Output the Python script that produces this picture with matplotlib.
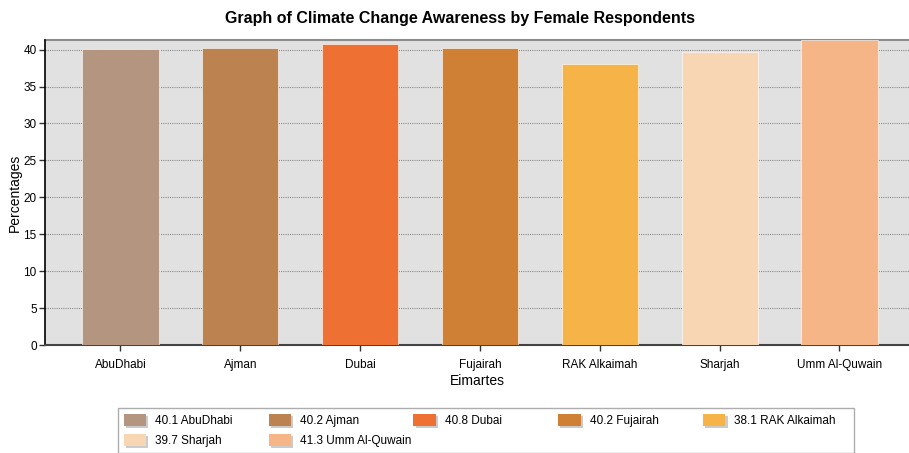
import matplotlib
matplotlib.use("Agg")
import matplotlib.pyplot as plt
from matplotlib.patches import Patch
import matplotlib.patheffects as pe

emirates = ["AbuDhabi", "Ajman", "Dubai", "Fujairah", "RAK Alkaimah", "Sharjah", "Umm Al-Quwain"]
percentages = [40.1, 40.2, 40.8, 40.2, 38.1, 39.7, 41.3]
colors = ["#B39580", "#BC8250", "#EE7033", "#D08035", "#F5B348", "#F8D5B3", "#F6B587"]
yticks = [0, 5, 10, 15, 20, 25, 30, 35, 40]

plt.rcParams["font.family"] = ["Liberation Sans", "DejaVu Sans"]

fig = plt.figure(figsize=(9.09, 4.53), dpi=100)
ax = fig.add_axes([0.0495, 0.2384, 0.9505, 0.6733])
ax.set_facecolor("#E1E1E1")

x = range(len(emirates))
ax.bar(x, percentages, width=0.635, color=colors, zorder=3,
       edgecolor="white", linewidth=0.4)

ax.set_xlim(-0.63, 6.58)
ax.set_ylim(0, 41.3)
ax.set_yticks(yticks)
ax.set_xticks(list(x))
ax.set_xticklabels(emirates)
ax.grid(axis="y", color="#8C8C8C", linestyle=(0, (1, 1)), linewidth=0.8, zorder=1)
ax.set_axisbelow(True)

ax.tick_params(axis="both", labelsize=8.5, color="#333333", length=4, width=1)
ax.tick_params(axis="x", pad=6)
ax.tick_params(axis="y", pad=2)

ax.spines["left"].set_color("black")
ax.spines["left"].set_linewidth(1.2)
ax.spines["bottom"].set_color("#444444")
ax.spines["bottom"].set_linewidth(1.5)
ax.spines["top"].set_color("#8C8C8C")
ax.spines["top"].set_linewidth(1.5)
ax.spines["top"].set_zorder(0.5)
ax.spines["right"].set_visible(False)

ax.set_ylabel("Percentages", fontsize=10, labelpad=1)
ax.set_xlabel("Eimartes", fontsize=10, labelpad=2)

fig.suptitle("Graph of Climate Change Awareness by Female Respondents",
             x=0.506, y=0.975, fontsize=11.5, fontweight="bold")

# legend entries fill row by row: reorder for matplotlib's column-major layout
order = [0, 5, 1, 6, 2, 3, 4]
handles = [Patch(facecolor=colors[i], edgecolor="none",
                 path_effects=[pe.SimplePatchShadow(offset=(1.5, -1.5), shadow_rgbFace="#999999", alpha=0.5), pe.Normal()])
           for i in order]
labels = [f"{percentages[i]} {emirates[i]}" for i in order]
leg = fig.legend(handles, labels, ncol=5, loc="upper left",
                 bbox_to_anchor=(118 / 909, 1 - 408 / 453),
                 frameon=True, fancybox=False, edgecolor="#999999",
                 fontsize=8.5, handlelength=1.9, handleheight=1.2,
                 handletextpad=0.75, columnspacing=0.18, labelspacing=0.6,
                 borderpad=0.5, borderaxespad=0)
leg.get_frame().set_linewidth(1.0)
# equal-width legend columns
leg._legend_handle_box.mode = "equal"

fig.savefig("out.png", dpi=100)
